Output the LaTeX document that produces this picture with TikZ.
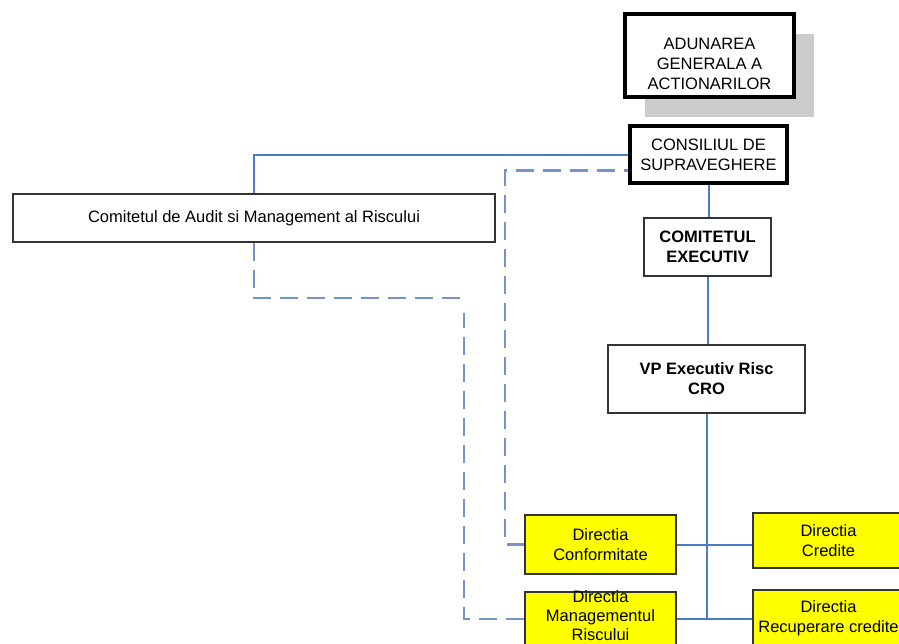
\documentclass[tikz,border=0pt]{standalone}
\usepackage{fontspec}
\setmainfont{Liberation Sans}
\usetikzlibrary{calc, shadows}
\definecolor{linkblue}{HTML}{4A7CC9}
\definecolor{dashblue}{HTML}{7393C9}
\definecolor{dirfill}{HTML}{FFFF00}
\newcommand{\orgfont}{\fontsize{16.5}{20}\selectfont}

\begin{document}
\begin{tikzpicture}[x=1pt, y=-1pt, font=\orgfont,
  orgbox/.style={draw=black!80, line width=2pt, fill=white, align=center, inner sep=0pt},
  topbox/.style={orgbox, draw=black, line width=3.5pt},
  dirbox/.style={orgbox, fill=dirfill, minimum width=151pt},
  link/.style={draw=linkblue, line width=2pt},
  dashlink/.style={draw=dashblue, line width=2.5pt, dash pattern=on 18pt off 9pt}]
  \useasboundingbox (0,0) rectangle (899,643);
  \clip (0,0) rectangle (899,643);
  % conducere
  \node[topbox, minimum width=169pt, minimum height=83pt,
    drop shadow={shadow xshift=20pt, shadow yshift=-20pt, fill=black!20, opacity=1, draw=none},
    label={[align=center, yshift=-8pt]center:ADUNAREA\\GENERALA A\\ACTIONARILOR}] (agm) at (709.5,55.5) {};
  \node[topbox, minimum width=157pt, minimum height=57pt] (consiliu) at (708.5,154.5) {CONSILIUL DE\\SUPRAVEGHERE};
  \node[orgbox, minimum width=482pt, minimum height=48pt] (audit) at (254,218) {Comitetul de Audit si Management al Riscului};
  \node[orgbox, font=\orgfont\bfseries, minimum width=127pt, minimum height=58pt] (exec) at (707.5,247) {COMITETUL\\EXECUTIV};
  \node[orgbox, font=\orgfont\bfseries, minimum width=197pt, minimum height=68pt] (vp) at (706.5,379) {VP Executiv Risc\\CRO};
  % directii
  \foreach \nm/\xp/\yp/\bh/\txt in {
    conf/600.5/544.5/59/{Directia\\Conformitate},
    credite/828.5/540.5/55/{Directia\\Credite},
    recup/828.5/618/56/{Directia\\Recuperare credite}}
    \node[dirbox, minimum height=\bh pt] (\nm) at (\xp,\yp) {\txt};
  \node[dirbox, minimum height=54pt,
    label={[align=center, font=\fontsize{16.5}{19}\selectfont, yshift=3pt]center:Directia\\Managementul\\Riscului}] (mgmt) at (600.5,619) {};
  % legaturi ierarhice
  \draw[link] (audit.north) |- (consiliu.west);
  \draw[link] (consiliu.south) -- (consiliu.south |- exec.north);
  \draw[link] (exec.south) -- (exec.south |- vp.north);
  \draw[link] (vp.south) -- (vp.south |- mgmt.east);
  \draw[link] (conf.east) -- (conf.east -| credite.west);
  \draw[link] (mgmt.east) -- (mgmt.east -| recup.west);
  % raportare functionala
  \coordinate (auditturn) at (463,298);
  \coordinate (mgmtturn) at (464,313);
  \draw[dashlink] (audit.south) |- (auditturn);
  \draw[dashlink] (mgmt.west) -| (mgmtturn);
  \draw[dashlink, dash phase=14pt] ($(consiliu.west)+(0,16)$) -| ($(conf.west)+(-19,0)$) -- (conf.west);
\end{tikzpicture}
\end{document}
